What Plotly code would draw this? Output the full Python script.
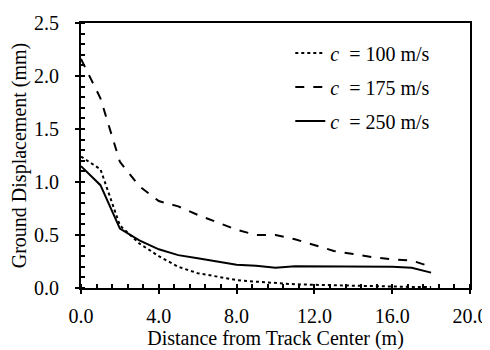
import plotly.graph_objects as go

distance = [0, 1, 2, 3, 4, 5, 6, 7, 8, 9, 10, 11, 12, 13, 14, 15, 16, 17, 18]
c100 = [1.24, 1.12, 0.59, 0.42, 0.30, 0.20, 0.14, 0.105, 0.075, 0.06, 0.045, 0.035, 0.03, 0.025, 0.02, 0.015, 0.012, 0.01, 0.01]
c175 = [2.16, 1.79, 1.19, 0.96, 0.82, 0.77, 0.69, 0.62, 0.55, 0.50, 0.50, 0.46, 0.405, 0.35, 0.32, 0.29, 0.27, 0.26, 0.20]
c250 = [1.15, 0.97, 0.56, 0.45, 0.365, 0.31, 0.28, 0.25, 0.22, 0.21, 0.19, 0.205, 0.205, 0.205, 0.205, 0.205, 0.20, 0.19, 0.145]
series_names = ["<i>c</i>  = 100 m/s", "<i>c</i>  = 175 m/s", "<i>c</i>  = 250 m/s"]
x_ticks = [0, 4, 8, 12, 16, 20]
x_tick_labels = ["0.0", "4.0", "8.0", "12.0", "16.0", "20.0"]
y_ticks = [0, 0.5, 1.0, 1.5, 2.0, 2.5]
y_tick_labels = ["0.0", "0.5", "1.0", "1.5", "2.0", "2.5"]

FONT = "Liberation Serif"

fig = go.Figure()
for name, ys, dash, grp in [(series_names[0], c100, "dot", "a"),
                            (series_names[1], c175, "dash", "b"),
                            (series_names[2], c250, "solid", "c")]:
    fig.add_trace(go.Scatter(x=distance, y=ys, mode="lines", name=name,
                             legendgroup=grp,
                             line=dict(color="black", width=2, dash=dash)))

axis_common = dict(showline=True, linecolor="black", linewidth=2, mirror=True,
                   showgrid=False, zeroline=False, ticks="outside", ticklen=4,
                   tickwidth=2, tickcolor="black", automargin=False,
                   tickfont=dict(family=FONT, size=20, color="black"))

fig.update_layout(
    width=482, height=342,
    margin=dict(l=73, r=20, t=15, b=62),
    paper_bgcolor="white", plot_bgcolor="white",
    font=dict(family=FONT, size=20, color="black"),
    showlegend=True,
    legend=dict(x=0.538, y=0.96, xanchor="left", yanchor="top",
                bgcolor="rgba(0,0,0,0)", tracegroupgap=5,
                font=dict(family=FONT, size=20, color="black")),
    xaxis=dict(range=[0, 20], tickvals=x_ticks, ticktext=x_tick_labels,
               ticklabelstandoff=5,
               title=dict(text="Distance from Track Center (m)", standoff=10,
                          font=dict(family=FONT, size=20)),
               minor=dict(ticks="inside", dtick=0.8, tick0=0, ticklen=4, tickwidth=1.5, tickcolor="black"),
               **axis_common),
    yaxis=dict(range=[0, 2.5], tickvals=y_ticks, ticktext=y_tick_labels,
               ticklabelstandoff=12,
               title=dict(text="Ground Displacement (mm)", standoff=6,
                          font=dict(family=FONT, size=20)),
               minor=dict(ticks="inside", dtick=0.1, tick0=0, ticklen=4, tickwidth=1.5, tickcolor="black"),
               **axis_common),
    xaxis2=dict(overlaying="x", range=[0, 20], tickvals=x_ticks, showticklabels=False,
                ticks="inside", ticklen=4, tickwidth=2, tickcolor="black", automargin=False,
                showgrid=False, zeroline=False, showline=False, side="bottom"),
    yaxis2=dict(overlaying="y", range=[0, 2.5], tickvals=y_ticks, showticklabels=False,
                ticks="inside", ticklen=4, tickwidth=2, tickcolor="black", automargin=False,
                showgrid=False, zeroline=False, showline=False, side="left"),
)
fig.add_trace(go.Scatter(x=[distance[0]], y=[c100[-1]], xaxis="x2", yaxis="y2", mode="markers",
                         marker=dict(opacity=0), showlegend=False, hoverinfo="skip"))
fig.write_html("out.html")
